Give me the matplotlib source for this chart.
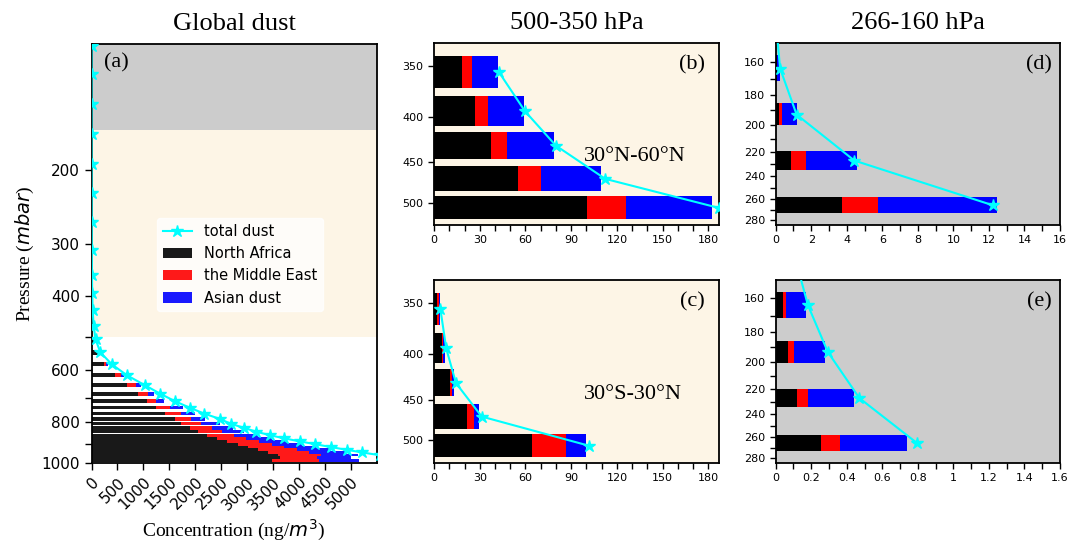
import matplotlib
matplotlib.use('Agg')
import matplotlib.pyplot as plt
import numpy as np
from matplotlib.ticker import FixedLocator, NullLocator, FixedFormatter
from matplotlib.lines import Line2D
from matplotlib.patches import Patch

SERIF = 'Liberation Serif'
GREY = '#cccccc'
BEIGE = '#fdf5e6'

# ---------------- data: global profile (panel a) ----------------
lev_a = [101, 118, 139, 164, 193, 227, 266, 310, 356, 394, 431, 470, 507,
         544, 581, 617, 652, 684, 712, 738, 762, 785, 806, 825, 842, 858,
         873, 888, 902, 916, 930, 944, 958, 972, 986]
na_a = [0.01, 0.02, 0.04, 0.08, 0.2, 0.5, 1, 2, 3, 5, 9, 18, 40,
        116, 233, 452, 684, 891, 1072, 1246, 1421, 1615, 1731, 1900, 2050, 2230,
        2420, 2620, 2820, 3020, 3220, 3400, 3600, 3643, 3483]
me_a = [0.0, 0.01, 0.01, 0.02, 0.1, 0.2, 0.5, 1, 1.5, 2.5, 4, 7, 8,
        10, 44, 116, 175, 194, 174, 260, 298, 310, 387, 430, 470, 510,
        560, 610, 660, 700, 750, 790, 820, 700, 904]
as_a = [0.01, 0.01, 0.04, 0.08, 0.2, 0.6, 1.2, 1.5, 2.5, 4, 6, 10, 10,
        8, 33, 52, 96, 130, 149, 258, 283, 259, 357, 400, 430, 470,
        500, 540, 580, 620, 660, 700, 730, 657, 774]
tot_a = [0.03, 0.05, 0.1, 0.2, 0.6, 1.5, 3, 5, 8, 13, 22, 40, 78,
         169, 388, 678, 1027, 1331, 1609, 1893, 2171, 2475, 2688, 2946, 3178, 3437,
         3708, 4018, 4322, 4612, 4922, 5227, 5560, 5800, 5950]

# ---------------- data: 500-350 hPa ----------------
lev_mid = [356, 394, 431, 470, 507]
na_b = [18.2, 26.9, 37.2, 54.9, 100.6]
me_b = [6.5, 8.3, 10.9, 15.3, 25.4]
as_b = [17.5, 23.9, 30.6, 39.6, 56.2]
tot_b = [42.7, 59.7, 80.0, 112.4, 187.0]

na_c = [2.2, 5.0, 10.5, 21.9, 64.3]
me_c = [0.9, 1.1, 1.1, 4.3, 22.3]
as_c = [0.8, 1.1, 1.7, 3.5, 12.9]
tot_c = [4.2, 8.0, 14.4, 31.3, 101.9]

# ---------------- data: 266-160 hPa ----------------
lev_up = [139, 164, 193, 227, 266]
na_d = [0.005, 0.06, 0.19, 0.88, 3.71]
me_d = [0.002, 0.03, 0.17, 0.81, 2.05]
as_d = [0.003, 0.15, 0.84, 2.89, 6.70]
tot_d = [0.01, 0.25, 1.18, 4.43, 12.25]

na_e = [0.03, 0.039, 0.069, 0.12, 0.257]
me_e = [0.01, 0.017, 0.032, 0.06, 0.103]
as_e = [0.06, 0.115, 0.177, 0.263, 0.379]
tot_e = [0.11, 0.182, 0.293, 0.471, 0.797]

labels_src = ['total dust', 'North Africa', 'the Middle East', 'Asian dust']
region_b = '30°N-60°N'
region_c = '30°S-30°N'

fig = plt.figure(figsize=(10.73, 5.45), dpi=100)
ax_a = fig.add_axes([0.0853, 0.1505, 0.2656, 0.7688])
ax_b = fig.add_axes([0.4045, 0.5872, 0.2656, 0.3334])
ax_c = fig.add_axes([0.4045, 0.1505, 0.2656, 0.3358])
ax_d = fig.add_axes([0.7229, 0.5872, 0.2650, 0.3334])
ax_e = fig.add_axes([0.7229, 0.1505, 0.2650, 0.3358])


def draw(ax, lev, na, me, asia, tot, h, alpha=1.0, ms=9):
    lev = np.array(lev, float)
    na = np.array(na, float)
    me = np.array(me, float)
    asia = np.array(asia, float)
    ax.barh(lev, na, height=h, color='black', alpha=alpha, zorder=2, linewidth=0)
    ax.barh(lev, me, left=na, height=h, color='red', alpha=alpha, zorder=2, linewidth=0)
    ax.barh(lev, asia, left=na + me, height=h, color='blue', alpha=alpha, zorder=2, linewidth=0)
    ax.plot(tot, lev, '-*', color='cyan', ms=ms, lw=1.5, zorder=3)


def style(ax, fs, tl):
    for s in ax.spines.values():
        s.set_linewidth(1.3)
    ax.tick_params(axis='both', labelsize=fs, length=tl, width=1.0, direction='out')


# ---- panel a ----
ax_a.axhspan(100, 160, color=GREY, zorder=0, lw=0)
ax_a.axhspan(160, 500, color=BEIGE, zorder=0, lw=0)
draw(ax_a, lev_a, na_a, me_a, as_a, tot_a, 14, alpha=0.9, ms=9)
ax_a.set_yscale('log')
ax_a.set_ylim(1000, 100)
ax_a.set_xlim(0, 5500)
ax_a.yaxis.set_major_locator(FixedLocator([200, 300, 400, 500, 600, 700, 800, 900, 1000]))
ax_a.yaxis.set_major_formatter(FixedFormatter(['200', '300', '400', '', '600', '', '800', '', '1000']))
ax_a.yaxis.set_minor_locator(NullLocator())
xt = list(range(0, 5001, 500))
ax_a.set_xticks(xt)
ax_a.set_xticklabels([str(v) for v in xt], rotation=45, ha='right', rotation_mode='anchor')
style(ax_a, 11, 5)
ax_a.set_xlabel('Concentration (ng/$m^3$)', fontsize=14, family=SERIF, labelpad=4)
ax_a.set_ylabel('Pressure ($mbar$)', fontsize=14, family=SERIF, labelpad=4)
ax_a.set_title('Global dust', fontsize=19, family=SERIF, pad=10)
ax_a.text(0.044, 0.954, '(a)', transform=ax_a.transAxes, fontsize=16, family=SERIF,
          ha='left', va='center')
handles = [Line2D([], [], color='cyan', marker='*', ms=9, lw=1.5),
           Patch(facecolor='black', alpha=0.9),
           Patch(facecolor='red', alpha=0.9),
           Patch(facecolor='blue', alpha=0.9)]
leg = ax_a.legend(handles, labels_src, loc='upper left', bbox_to_anchor=(0.23, 0.585),
                  borderaxespad=0, fontsize=10.5, framealpha=0.8, edgecolor='white',
                  fancybox=True)

# ---- panels b, c ----
for ax, na, me, asia, tot, lab, reg in [(ax_b, na_b, me_b, as_b, tot_b, '(b)', region_b),
                                         (ax_c, na_c, me_c, as_c, tot_c, '(c)', region_c)]:
    ax.set_facecolor(BEIGE)
    draw(ax, lev_mid, na, me, asia, tot, 30, ms=9)
    ax.set_yscale('log')
    ax.set_ylim(530, 330)
    ax.set_xlim(0, 187)
    ax.yaxis.set_major_locator(FixedLocator([350, 400, 450, 500]))
    ax.yaxis.set_major_formatter(FixedFormatter(['350', '400', '450', '500']))
    ax.yaxis.set_minor_locator(NullLocator())
    xt = list(range(0, 181, 10))
    ax.set_xticks(xt)
    ax.set_xticklabels([str(v) if v % 30 == 0 else '' for v in xt])
    style(ax, 8, 4)
    ax.text(0.95, 0.88, lab, transform=ax.transAxes, fontsize=16, family=SERIF,
            ha='right', va='center')
    ax.text(0.526, 0.375, reg, transform=ax.transAxes, fontsize=16, family=SERIF,
            ha='left', va='center')
ax_b.set_title('500-350 hPa', fontsize=19, family=SERIF, pad=10)

# ---- panels d, e ----
for ax, na, me, asia, tot, lab, xmax, step, lstep in [
        (ax_d, na_d, me_d, as_d, tot_d, '(d)', 16, 1.0, 2),
        (ax_e, na_e, me_e, as_e, tot_e, '(e)', 1.6, 0.1, 2)]:
    ax.set_facecolor(GREY)
    draw(ax, lev_up, na, me, asia, tot, 15, ms=9)
    ax.set_yscale('log')
    ax.set_ylim(285, 150)
    ax.set_xlim(0, xmax)
    yt = list(range(160, 281, 10))
    ax.yaxis.set_major_locator(FixedLocator(yt))
    ax.yaxis.set_major_formatter(FixedFormatter([str(v) if v % 20 == 0 else '' for v in yt]))
    ax.yaxis.set_minor_locator(NullLocator())
    xt = [round(i * step, 2) for i in range(int(round(xmax / step)) + 1)]
    ax.set_xticks(xt)
    ax.set_xticklabels([('%g' % v) if i % lstep == 0 else '' for i, v in enumerate(xt)])
    style(ax, 8, 4)
    ax.text(0.972, 0.88, lab, transform=ax.transAxes, fontsize=16, family=SERIF,
            ha='right', va='center')
ax_d.set_title('266-160 hPa', fontsize=19, family=SERIF, pad=10)

fig.savefig('out.png', dpi=100)
